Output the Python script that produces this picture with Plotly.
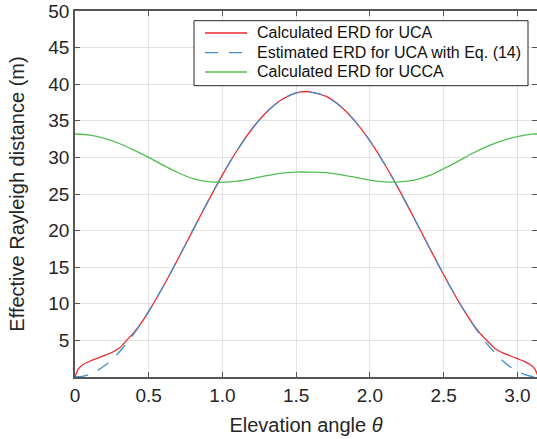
import plotly.graph_objects as go

# ---- data ----
theta_uca = [0, 0.02, 0.05, 0.1, 0.15, 0.2, 0.25, 0.3, 0.35, 0.4, 0.45, 0.5, 0.6, 0.7, 0.8, 0.9,
             1.0, 1.1, 1.2, 1.3, 1.4, 1.5, 1.5708, 1.6, 1.7, 1.8, 1.9, 2.0, 2.1, 2.2, 2.3, 2.4,
             2.5, 2.6, 2.7, 2.75, 2.8, 2.85, 2.9, 2.95, 3.0, 3.05, 3.1, 3.12, 3.1416]
erd_uca = [0, 1.0, 1.65, 2.15, 2.55, 2.95, 3.35, 3.95, 5.0, 6.1, 7.4, 8.96, 12.43, 16.19, 20.07, 23.93,
           27.62, 30.98, 33.88, 36.21, 37.87, 38.81, 39.0, 38.93, 38.36, 36.99, 34.92, 32.25, 29.06, 25.49, 21.69, 17.80,
           13.97, 10.37, 7.2, 5.9, 4.85, 3.85, 3.3, 2.9, 2.5, 2.1, 1.5, 1.05, 0]

theta_est = [0, 0.05, 0.1, 0.15, 0.2, 0.25, 0.3, 0.35, 0.4, 0.45, 0.5, 0.6, 0.7, 0.8, 0.9,
             1.0, 1.1, 1.2, 1.3, 1.4, 1.5, 1.5708, 1.6, 1.7, 1.8, 1.9, 2.0, 2.1, 2.2, 2.3, 2.4,
             2.5, 2.6, 2.7, 2.75, 2.8, 2.85, 2.9, 2.95, 3.0, 3.05, 3.1, 3.1416]
erd_est = [0, 0.1, 0.39, 0.87, 1.54, 2.38, 3.41, 4.59, 5.91, 7.38, 8.96, 12.43, 16.19, 20.07, 23.93,
           27.62, 30.98, 33.88, 36.21, 37.87, 38.81, 39.0, 38.93, 38.36, 36.99, 34.92, 32.25, 29.06, 25.49, 21.69, 17.80,
           13.97, 10.37, 7.12, 5.68, 4.38, 3.22, 2.23, 1.41, 0.78, 0.33, 0.07, 0]

theta_ucca = [0, 0.1, 0.2, 0.3, 0.4, 0.5, 0.6, 0.7, 0.8, 0.9, 1.0, 1.1, 1.2, 1.3, 1.4, 1.5, 1.5708,
              1.6, 1.7, 1.8, 1.9, 2.0, 2.1, 2.2, 2.3, 2.4, 2.5, 2.6, 2.7, 2.8, 2.9, 3.0, 3.1, 3.1416]
erd_ucca = [33.2, 33.05, 32.6, 31.9, 31.0, 30.0, 28.9, 27.9, 27.1, 26.7, 26.6, 26.75, 27.1, 27.5, 27.85, 28.0, 28.0,
            28.0, 27.93, 27.65, 27.27, 26.9, 26.65, 26.65, 26.9, 27.5, 28.45, 29.5, 30.6, 31.55, 32.3, 32.85, 33.17, 33.2]

x_tickvals = [0, 0.5, 1.0, 1.5, 2.0, 2.5, 3.0]
x_ticktext = ["0", "0.5", "1.0", "1.5", "2.0", "2.5", "3.0"]
y_tickvals = [5, 10, 15, 20, 25, 30, 35, 40, 45, 50]

names = ["Calculated ERD for UCA", "Estimated ERD for UCA with Eq. (14)", "Calculated ERD for UCCA"]
colors = ["#ee2a2e", "#3f8fd2", "#52be52"]
dashes = ["solid", "13px,11px", "solid"]

FONT = "Liberation Sans, Arial, sans-serif"
W, H = 537, 439
ML, MR, MT, MB = 75, 0, 11, 62
PW, PH = W - ML - MR, H - MT - MB


def px(x):
    return (x - ML) / PW


def py(y):
    return (H - MB - y) / PH


fig = go.Figure()
series = [(theta_uca, erd_uca), (theta_est, erd_est), (theta_ucca, erd_ucca)]
for (xs, ys), n, c, d in zip(series, names, colors, dashes):
    fig.add_trace(go.Scatter(x=xs, y=ys, mode="lines", name=n, showlegend=False,
                             line=dict(color=c, width=1.3, dash=d, shape="spline", smoothing=0.8)))

axis_common = dict(showline=True, linecolor="#555555", linewidth=1.5, mirror="ticks",
                   ticks="inside", ticklen=5, tickcolor="#555555", tickwidth=1,
                   showgrid=True, gridcolor="#e2e2e2", gridwidth=1, zeroline=False,
                   automargin=False,
                   tickfont=dict(family=FONT, size=19, color="#262626"))

fig.update_xaxes(range=[0, 3.133], tickvals=x_tickvals, ticktext=x_ticktext,
                 title=dict(text="Elevation angle <i>θ</i>", font=dict(size=20, color="#262626", family=FONT),
                            standoff=13),
                 **axis_common)
fig.update_yaxes(range=[0, 50], tickvals=y_tickvals,
                 title=dict(text="Effective Rayleigh distance (m)", font=dict(size=20, color="#262626", family=FONT),
                            standoff=18),
                 **axis_common)

# legend drawn as box + sample lines + text
shapes = [dict(type="rect", xref="paper", yref="paper", x0=px(194), x1=px(528), y0=py(85.7), y1=py(20.7),
               line=dict(color="#262626", width=1), fillcolor="white", layer="above")]
annotations = []
row_y = [33, 52.7, 72]
for n, c, d, yy in zip(names, colors, dashes, row_y):
    shapes.append(dict(type="line", xref="paper", yref="paper", x0=px(205), x1=px(247), y0=py(yy), y1=py(yy),
                       line=dict(color=c, width=1.3, dash=d), layer="above"))
    annotations.append(dict(text=n, xref="paper", yref="paper", x=px(255), y=py(yy), xanchor="left",
                            yanchor="middle", showarrow=False, font=dict(family=FONT, size=16, color="#111111")))

fig.update_layout(
    width=W, height=H,
    margin=dict(l=ML, r=MR, t=MT, b=MB),
    plot_bgcolor="white", paper_bgcolor="white",
    font=dict(family=FONT, color="#262626"),
    shapes=shapes, annotations=annotations,
    showlegend=False,
)

fig.write_html("out.html", config={"displayModeBar": False},
               post_script="document.body.style.margin='0';document.body.style.overflow='hidden';")
